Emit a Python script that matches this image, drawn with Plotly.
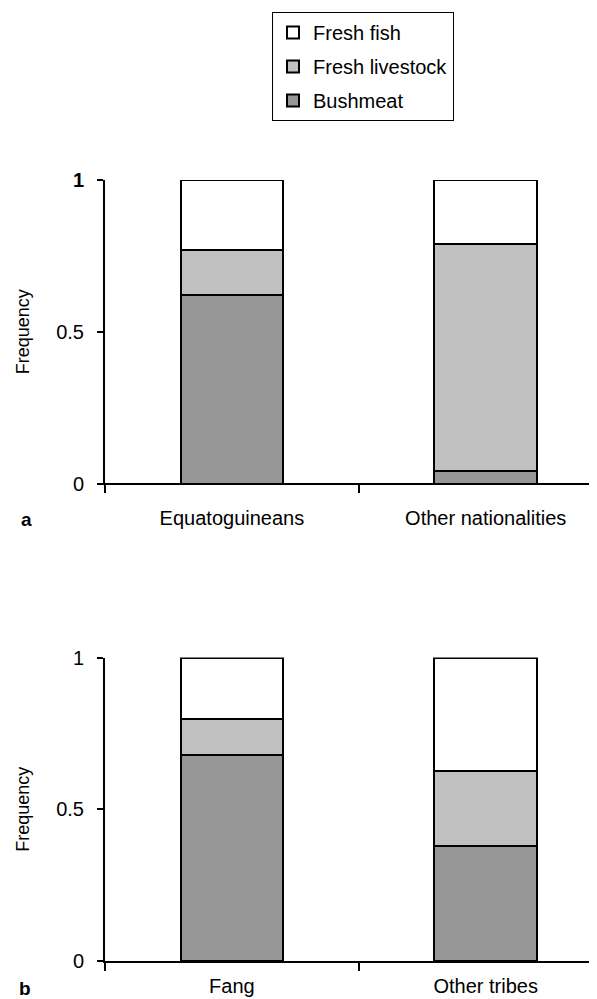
import plotly.graph_objects as go
from plotly.subplots import make_subplots

# ---- data ----
cats_a = ["Equatoguineans", "Other nationalities"]
bushmeat_a = [0.62, 0.04]
livestock_a = [0.15, 0.75]
fish_a = [0.23, 0.21]

cats_b = ["Fang", "Other tribes"]
bushmeat_b = [0.678, 0.378]
livestock_b = [0.12, 0.247]
fish_b = [0.202, 0.375]

series_names = ["Bushmeat", "Fresh livestock", "Fresh fish"]
series_colors = ["#969696", "#c0c0c0", "#ffffff"]
legend_ranks = [3, 2, 1]
y_ticks = [0, 0.5, 1]

FONT = "Liberation Sans, Arial, sans-serif"

fig = make_subplots(rows=2, cols=1, vertical_spacing=0.2228)

data_a = [bushmeat_a, livestock_a, fish_a]
data_b = [bushmeat_b, livestock_b, fish_b]
xpos = [0, 1]
for row, data in ((1, data_a), (2, data_b)):
    for name, col, rank, vals in zip(series_names, series_colors, legend_ranks, data):
        fig.add_trace(
            go.Bar(
                x=xpos, y=vals, name=name, width=0.404,
                marker=dict(color=col, line=dict(color="black", width=2)),
                showlegend=(row == 1), legendgroup=name, legendrank=rank,
            ),
            row=row, col=1,
        )

fig.update_layout(
    barmode="stack",
    width=597, height=999,
    margin=dict(l=97, r=0, t=172, b=46, autoexpand=False),
    plot_bgcolor="white", paper_bgcolor="white",
    font=dict(family=FONT, size=20, color="black"),
    legend=dict(
        x=0.334, y=1.215, xanchor="left", yanchor="top",
        bordercolor="black", borderwidth=1,
        traceorder="grouped", tracegroupgap=5,
        font=dict(size=20), bgcolor="white",
    ),
)

for row, cats, standoff in ((1, cats_a, 16), (2, cats_b, 6)):
    fig.update_xaxes(
        row=row, col=1, automargin=False,
        range=[-0.5, 1.47], tickmode="array", tickvals=xpos, ticktext=cats,
        ticks="", showline=True, linecolor="black", linewidth=2,
        showgrid=False, zeroline=False,
        ticklabelstandoff=standoff,
        tickfont=dict(size=20),
        minor=dict(tickmode="array", tickvals=[-0.5, 0.5], ticks="outside",
                   ticklen=8, tickwidth=1.5, tickcolor="black", showgrid=False),
    )

ytext_a = ["0", "0.5", "<b>1</b>"]
ytext_b = ["0", "0.5", "1"]
for row, tt in ((1, ytext_a), (2, ytext_b)):
    fig.update_yaxes(
        row=row, col=1, automargin=False,
        range=[0, 1], tickmode="array", tickvals=y_ticks, ticktext=tt,
        ticks="outside", ticklen=6, tickwidth=1.5, tickcolor="black",
        showline=True, linecolor="black", linewidth=2,
        showgrid=False, zeroline=False,
        ticklabelstandoff=9, tickfont=dict(size=20),
        title=dict(text="Frequency", font=dict(size=18), standoff=22),
    )

fig.add_annotation(text="<b>a</b>", xref="x domain", yref="y domain", x=-0.158, y=-0.12,
                   showarrow=False, font=dict(size=19), xanchor="center", yanchor="middle")
fig.add_annotation(text="<b>b</b>", xref="x2 domain", yref="y2 domain", x=-0.16, y=-0.09,
                   showarrow=False, font=dict(size=19), xanchor="center", yanchor="middle")

fig.write_html("out.html")
